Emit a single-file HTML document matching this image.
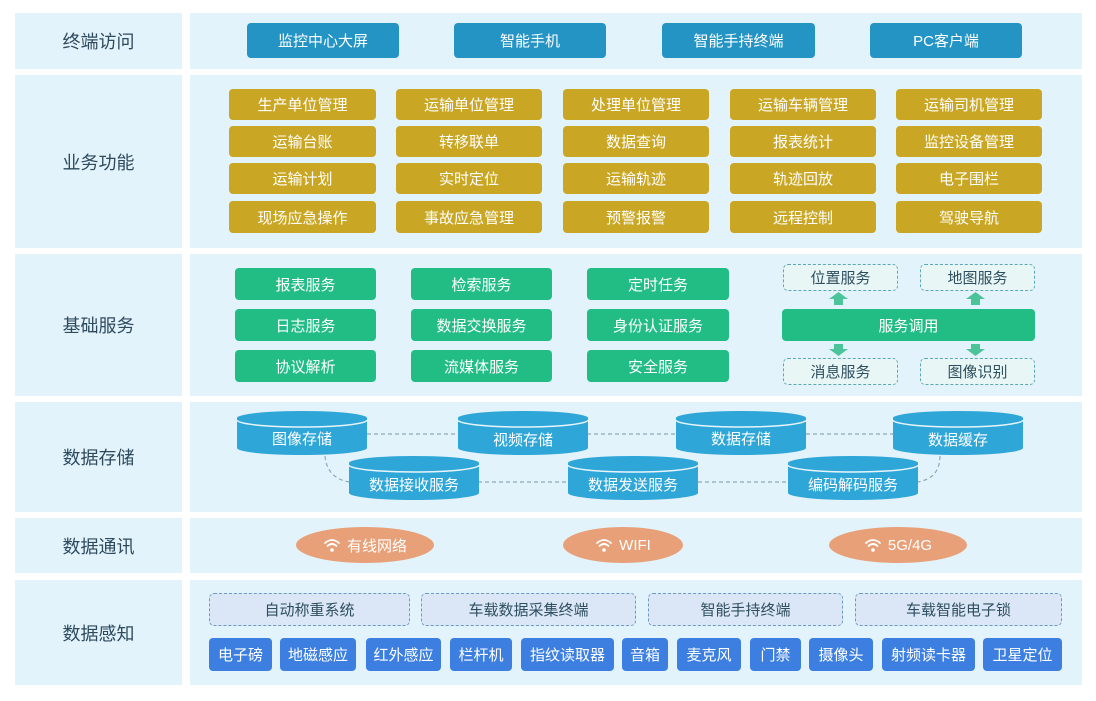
<!DOCTYPE html><html><head><meta charset="utf-8"><style>
*{margin:0;padding:0;box-sizing:border-box}
body{width:1096px;height:701px;background:#fff;position:relative;overflow:hidden;font-family:"Liberation Sans","Noto Sans CJK SC",sans-serif}
.p{position:absolute;background:#e3f3fb}
.l{position:absolute;display:flex;align-items:center;justify-content:center;color:#2d4a5e;font-size:18px}
.b{position:absolute;display:flex;align-items:center;justify-content:center;color:#fff;font-size:15px;border-radius:4px}
.t{background:#2394c4}.y{background:#c9a623}.g{background:#21bd84}.u{background:#3c7fe0}
.d{position:absolute;display:flex;align-items:center;justify-content:center;color:#2e4f5f;font-size:15px;border:1.5px dashed #5aa8b5;border-radius:5px;background:#e8f6f5}
.d2{background:#dbe7f7;border-color:#6a9bc3}
.e{position:absolute;display:flex;align-items:center;justify-content:center;color:#fff;font-size:15px;background:#e8a078;border-radius:50%}
.e svg{margin-right:6px}
</style></head><body>
<div class="p" style="left:15px;top:13px;width:167px;height:56px"></div><div class="p" style="left:190px;top:13px;width:892px;height:56px"></div>
<div class="p" style="left:15px;top:75px;width:167px;height:173px"></div><div class="p" style="left:190px;top:75px;width:892px;height:173px"></div>
<div class="p" style="left:15px;top:254px;width:167px;height:142px"></div><div class="p" style="left:190px;top:254px;width:892px;height:142px"></div>
<div class="p" style="left:15px;top:402px;width:167px;height:110px"></div><div class="p" style="left:190px;top:402px;width:892px;height:110px"></div>
<div class="p" style="left:15px;top:518px;width:167px;height:55px"></div><div class="p" style="left:190px;top:518px;width:892px;height:55px"></div>
<div class="p" style="left:15px;top:580px;width:167px;height:105px"></div><div class="p" style="left:190px;top:580px;width:892px;height:105px"></div>
<div class="l" style="left:15px;top:13px;width:167px;height:56px">终端访问</div>
<div class="l" style="left:15px;top:75px;width:167px;height:173px">业务功能</div>
<div class="l" style="left:15px;top:254px;width:167px;height:142px">基础服务</div>
<div class="l" style="left:15px;top:402px;width:167px;height:110px">数据存储</div>
<div class="l" style="left:15px;top:518px;width:167px;height:55px">数据通讯</div>
<div class="l" style="left:15px;top:580px;width:167px;height:105px">数据感知</div>

<div class="b t" style="left:247px;top:23px;width:152px;height:35px">监控中心大屏</div>
<div class="b t" style="left:454px;top:23px;width:152px;height:35px">智能手机</div>
<div class="b t" style="left:662px;top:23px;width:153px;height:35px">智能手持终端</div>
<div class="b t" style="left:870px;top:23px;width:152px;height:35px">PC客户端</div>

<div class="b y" style="left:229px;top:89px;width:147px;height:31px">生产单位管理</div>
<div class="b y" style="left:396px;top:89px;width:146px;height:31px">运输单位管理</div>
<div class="b y" style="left:563px;top:89px;width:146px;height:31px">处理单位管理</div>
<div class="b y" style="left:730px;top:89px;width:146px;height:31px">运输车辆管理</div>
<div class="b y" style="left:896px;top:89px;width:146px;height:31px">运输司机管理</div>
<div class="b y" style="left:229px;top:126px;width:147px;height:31px">运输台账</div>
<div class="b y" style="left:396px;top:126px;width:146px;height:31px">转移联单</div>
<div class="b y" style="left:563px;top:126px;width:146px;height:31px">数据查询</div>
<div class="b y" style="left:730px;top:126px;width:146px;height:31px">报表统计</div>
<div class="b y" style="left:896px;top:126px;width:146px;height:31px">监控设备管理</div>
<div class="b y" style="left:229px;top:163px;width:147px;height:31px">运输计划</div>
<div class="b y" style="left:396px;top:163px;width:146px;height:31px">实时定位</div>
<div class="b y" style="left:563px;top:163px;width:146px;height:31px">运输轨迹</div>
<div class="b y" style="left:730px;top:163px;width:146px;height:31px">轨迹回放</div>
<div class="b y" style="left:896px;top:163px;width:146px;height:31px">电子围栏</div>
<div class="b y" style="left:229px;top:201px;width:147px;height:32px">现场应急操作</div>
<div class="b y" style="left:396px;top:201px;width:146px;height:32px">事故应急管理</div>
<div class="b y" style="left:563px;top:201px;width:146px;height:32px">预警报警</div>
<div class="b y" style="left:730px;top:201px;width:146px;height:32px">远程控制</div>
<div class="b y" style="left:896px;top:201px;width:146px;height:32px">驾驶导航</div>

<div class="b g" style="left:235px;top:268px;width:141px;height:32px">报表服务</div>
<div class="b g" style="left:411px;top:268px;width:141px;height:32px">检索服务</div>
<div class="b g" style="left:587px;top:268px;width:142px;height:32px">定时任务</div>
<div class="b g" style="left:235px;top:309px;width:141px;height:32px">日志服务</div>
<div class="b g" style="left:411px;top:309px;width:141px;height:32px">数据交换服务</div>
<div class="b g" style="left:587px;top:309px;width:142px;height:32px">身份认证服务</div>
<div class="b g" style="left:235px;top:350px;width:141px;height:32px">协议解析</div>
<div class="b g" style="left:411px;top:350px;width:141px;height:32px">流媒体服务</div>
<div class="b g" style="left:587px;top:350px;width:142px;height:32px">安全服务</div>
<div class="d" style="left:783px;top:264px;width:115px;height:27px">位置服务</div>
<div class="d" style="left:920px;top:264px;width:115px;height:27px">地图服务</div>
<div class="b g" style="left:782px;top:309px;width:253px;height:32px">服务调用</div>
<div class="d" style="left:783px;top:358px;width:115px;height:27px">消息服务</div>
<div class="d" style="left:920px;top:358px;width:115px;height:27px">图像识别</div>
<svg style="position:absolute;left:0;top:0" width="1096" height="701" font-family="Liberation Sans,Noto Sans CJK SC,sans-serif" font-size="15">
<g fill="#4cc499">
<polygon points="834,305 843,305 843,299 848,299 838.5,292 829,299 834,299"/>
<polygon points="971,305 980,305 980,299 985,299 975.5,292 966,299 971,299"/>
<polygon points="834,344 843,344 843,349 848,349 838.5,356 829,349 834,349"/>
<polygon points="971,344 980,344 980,349 985,349 975.5,356 966,349 971,349"/>
</g>
<g stroke="#8aaab8" stroke-dasharray="4,3" fill="none" stroke-width="1.2">
<line x1="367" y1="434" x2="458" y2="434"/><line x1="587" y1="434" x2="676" y2="434"/><line x1="806" y1="434" x2="893" y2="434"/>
<line x1="478" y1="482" x2="568" y2="482"/><line x1="698" y1="482" x2="788" y2="482"/>
<path d="M325,456 Q327,478 349,482"/><path d="M940,456 Q940,478 918,482"/>
</g>
<defs><g id="cy"><path d="M0,7 L0,37 A65,7 0 0 0 130,37 L130,7 Z" fill="#2fa6d8"/><ellipse cx="65" cy="7" rx="65" ry="7" fill="#2fa6d8"/><path d="M0,9 A65,7 0 0 0 130,9" stroke="#e6f5fb" stroke-width="1.5" fill="none"/></g></defs>
<use href="#cy" x="237" y="411"/><use href="#cy" x="458" y="411"/><use href="#cy" x="676" y="411"/><use href="#cy" x="893" y="411"/>
<use href="#cy" x="349" y="456"/><use href="#cy" x="568" y="456"/><use href="#cy" x="788" y="456"/>
<g fill="#fff" text-anchor="middle">
<text x="302" y="444">图像存储</text><text x="523" y="445">视频存储</text><text x="741" y="444">数据存储</text><text x="958" y="445">数据缓存</text>
<text x="414" y="490">数据接收服务</text><text x="633" y="490">数据发送服务</text><text x="853" y="490">编码解码服务</text>
</g>
</svg>
<div class="e" style="left:296px;top:527px;width:138px;height:36px"><svg width="18" height="16" viewBox="0 0 18 16"><g fill="none" stroke="#fff" stroke-width="1.8" stroke-linecap="round"><path d="M2,6 Q9,0 16,6"/><path d="M4.5,9 Q9,5 13.5,9"/></g><circle cx="9" cy="13" r="1.8" fill="#fff"/></svg>有线网络</div>
<div class="e" style="left:563px;top:527px;width:120px;height:36px"><svg width="18" height="16" viewBox="0 0 18 16"><g fill="none" stroke="#fff" stroke-width="1.8" stroke-linecap="round"><path d="M2,6 Q9,0 16,6"/><path d="M4.5,9 Q9,5 13.5,9"/></g><circle cx="9" cy="13" r="1.8" fill="#fff"/></svg>WIFI</div>
<div class="e" style="left:829px;top:527px;width:138px;height:36px"><svg width="18" height="16" viewBox="0 0 18 16"><g fill="none" stroke="#fff" stroke-width="1.8" stroke-linecap="round"><path d="M2,6 Q9,0 16,6"/><path d="M4.5,9 Q9,5 13.5,9"/></g><circle cx="9" cy="13" r="1.8" fill="#fff"/></svg>5G/4G</div>

<div class="d d2" style="left:209px;top:593px;width:201px;height:33px">自动称重系统</div>
<div class="d d2" style="left:421px;top:593px;width:215px;height:33px">车载数据采集终端</div>
<div class="d d2" style="left:648px;top:593px;width:195px;height:33px">智能手持终端</div>
<div class="d d2" style="left:855px;top:593px;width:207px;height:33px">车载智能电子锁</div>
<div class="b u" style="left:209px;top:638px;width:63px;height:33px">电子磅</div>
<div class="b u" style="left:280px;top:638px;width:76px;height:33px">地磁感应</div>
<div class="b u" style="left:366px;top:638px;width:75px;height:33px">红外感应</div>
<div class="b u" style="left:450px;top:638px;width:62px;height:33px">栏杆机</div>
<div class="b u" style="left:521px;top:638px;width:93px;height:33px">指纹读取器</div>
<div class="b u" style="left:622px;top:638px;width:46px;height:33px">音箱</div>
<div class="b u" style="left:677px;top:638px;width:64px;height:33px">麦克风</div>
<div class="b u" style="left:750px;top:638px;width:51px;height:33px">门禁</div>
<div class="b u" style="left:809px;top:638px;width:64px;height:33px">摄像头</div>
<div class="b u" style="left:882px;top:638px;width:93px;height:33px">射频读卡器</div>
<div class="b u" style="left:983px;top:638px;width:79px;height:33px">卫星定位</div>
</body></html>
